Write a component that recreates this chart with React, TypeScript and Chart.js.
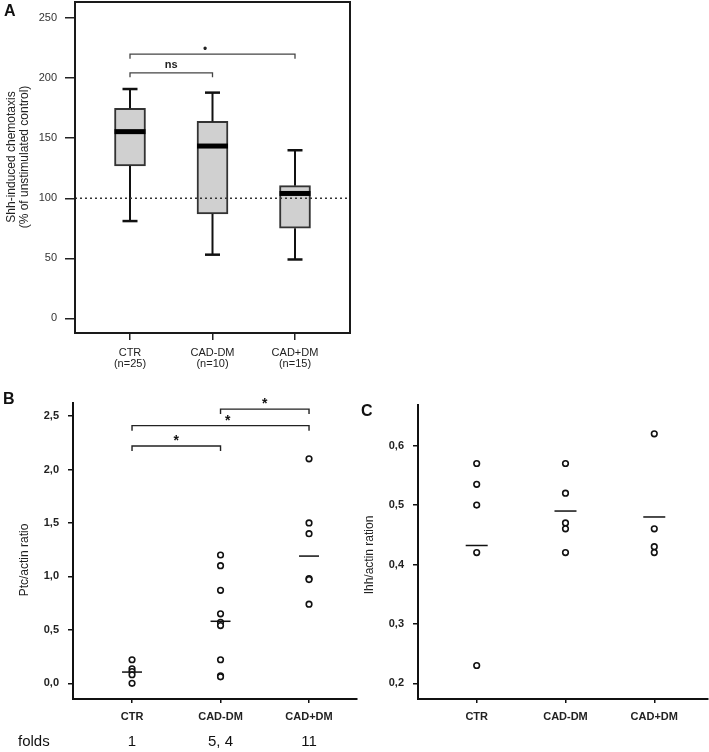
import React, { useEffect, useRef } from 'react';
import { Chart, registerables } from 'chart.js';

Chart.register(...registerables);

const FONT = '"Liberation Sans", Arial, Helvetica, sans-serif';
Chart.defaults.font.family = FONT;
Chart.defaults.color = '#222';

// ---------------- Panel A (box plot) ----------------
const groupsA = ['CTR', 'CAD-DM', 'CAD+DM'];
const nCountsA = ['(n=25)', '(n=10)', '(n=15)'];
const q1A = [127, 87, 75];
const q3A = [175, 164, 110.5];
const medianA = [155.5, 143.5, 104];
const whiskerLowA = [81, 53, 49];
const whiskerHighA = [191, 188, 140];
const refLineA = 100;
const yTicksA = [0, 50, 100, 150, 200, 250];
const bracketFromA = [0, 0];
const bracketToA = [1, 2];
const bracketYA = [204.5, 220];
const bracketLabelA = ['ns', '•'];
const bracketLabelPosA = [0.5, 0.455];
const titleA = ['Shh-induced chemotaxis', '(% of unstimulated control)'];

// ---------------- Panel B (Ptc/actin) ----------------
const groupsBC = ['CTR', 'CAD-DM', 'CAD+DM'];
const ptcCTR = [0.22, 0.135, 0.11, 0.08, 0.0];
const ptcCADnoDM = [1.2, 1.1, 0.87, 0.65, 0.57, 0.54, 0.22, 0.07, 0.06];
const ptcCADDM = [2.1, 1.5, 1.4, 0.98, 0.97, 0.74];
const ptcMedian = [0.105, 0.58, 1.19];
const foldsB = ['1', '5, 4', '11'];
const yTicksB = [0, 0.5, 1, 1.5, 2, 2.5];
const bracketFromB = [0, 0, 1];
const bracketToB = [1, 2, 2];
const bracketYB = [2.22, 2.41, 2.565];
const bracketLabelB = ['*', '*', '*'];
const bracketLabelPosB = [0.5, 0.54, 0.5];
const titleB = ['Ptc/actin ratio'];

// ---------------- Panel C (Ihh/actin) ----------------
const ihhCTR = [0.57, 0.535, 0.5, 0.42, 0.23];
const ihhCADnoDM = [0.57, 0.52, 0.47, 0.46, 0.42];
const ihhCADDM = [0.62, 0.46, 0.43, 0.42];
const ihhMedian = [0.432, 0.49, 0.48];
const yTicksC = [0.2, 0.3, 0.4, 0.5, 0.6];
const titleC = ['Ihh/actin ration'];

const commaFmt = (v: any) => Number(v).toFixed(1).replace('.', ',');

function line(ctx: CanvasRenderingContext2D, x1: number, y1: number, x2: number, y2: number) {
  ctx.beginPath();
  ctx.moveTo(x1, y1);
  ctx.lineTo(x2, y2);
  ctx.stroke();
}

function bracket(ctx: CanvasRenderingContext2D, x1: number, x2: number, yLine: number, legPx: number) {
  ctx.beginPath();
  ctx.moveTo(x1, yLine + legPx);
  ctx.lineTo(x1, yLine);
  ctx.lineTo(x2, yLine);
  ctx.lineTo(x2, yLine + legPx);
  ctx.stroke();
}

// rotated y-axis title drawn at a fixed place
function yTitlePlugin(lines: string[], firstX: number, centerY: number) {
  return {
    id: 'yTitle',
    afterDraw(chart: any) {
      const ctx = chart.ctx as CanvasRenderingContext2D;
      ctx.save();
      ctx.fillStyle = '#222';
      ctx.font = `12px ${FONT}`;
      ctx.textAlign = 'center';
      ctx.textBaseline = 'middle';
      lines.forEach((t, i) => {
        ctx.save();
        ctx.translate(firstX + i * 13.2, centerY);
        ctx.rotate(-Math.PI / 2);
        ctx.fillText(t, 0, 0);
        ctx.restore();
      });
      ctx.restore();
    },
  };
}

// ---------- config A ----------
function makeA(): any {
  const boxPlugin = {
    id: 'boxExtras',
    afterDatasetsDraw(chart: any) {
      const { ctx, chartArea: ca, scales } = chart;
      const x = scales.x, y = scales.y;
      const meta = chart.getDatasetMeta(0);
      ctx.save();
      groupsA.forEach((_, i) => {
        const cx = x.getPixelForValue(i);
        const bar = meta.data[i];
        const half = (bar && bar.width ? bar.width : 31) / 2;
        ctx.strokeStyle = '#111';
        ctx.lineWidth = 2;
        line(ctx, cx, y.getPixelForValue(q3A[i]), cx, y.getPixelForValue(whiskerHighA[i]));
        line(ctx, cx, y.getPixelForValue(q1A[i]), cx, y.getPixelForValue(whiskerLowA[i]));
        ctx.lineWidth = 2.5;
        line(ctx, cx - 7.5, y.getPixelForValue(whiskerHighA[i]), cx + 7.5, y.getPixelForValue(whiskerHighA[i]));
        line(ctx, cx - 7.5, y.getPixelForValue(whiskerLowA[i]), cx + 7.5, y.getPixelForValue(whiskerLowA[i]));
        ctx.fillStyle = '#000';
        const ym = y.getPixelForValue(medianA[i]);
        ctx.fillRect(cx - half, ym - 2.5, half * 2, 5);
      });
      ctx.strokeStyle = '#333';
      ctx.lineWidth = 1.5;
      ctx.setLineDash([2, 3]);
      const yr = y.getPixelForValue(refLineA);
      line(ctx, ca.left, yr, ca.right, yr);
      ctx.setLineDash([]);
      ctx.strokeStyle = '#1a1a1a';
      ctx.lineWidth = 2;
      ctx.strokeRect(ca.left, ca.top, ca.right - ca.left, ca.bottom - ca.top);
      ctx.strokeStyle = '#444';
      ctx.lineWidth = 1.3;
      bracketYA.forEach((bv, k) => {
        const x1 = x.getPixelForValue(bracketFromA[k]);
        const x2 = x.getPixelForValue(bracketToA[k]);
        const yl = y.getPixelForValue(bv);
        bracket(ctx, x1, x2, yl, 4.5);
        const lx = x1 + (x2 - x1) * bracketLabelPosA[k];
        ctx.fillStyle = '#222';
        ctx.textAlign = 'center';
        ctx.textBaseline = 'middle';
        if (bracketLabelA[k] === 'ns') {
          ctx.font = `bold 11px ${FONT}`;
          ctx.fillText(bracketLabelA[k], lx, yl - 8);
        } else {
          ctx.font = `12px ${FONT}`;
          ctx.fillText(bracketLabelA[k], lx, yl - 5);
        }
      });
      ctx.restore();
    },
  };

  return {
    type: 'bar',
    data: {
      datasets: [
        {
          data: q1A.map((q, i) => ({ x: i, y: [q, q3A[i]] })),
          backgroundColor: '#d0d0d0',
          borderColor: '#333',
          borderWidth: 2,
          borderSkipped: false,
          barThickness: 31,
        },
      ],
    },
    plugins: [boxPlugin, yTitlePlugin(titleA, 11.6, 157)],
    options: {
      responsive: false,
      animation: false,
      devicePixelRatio: 1,
      events: [],
      layout: { autoPadding: false, padding: { top: 2, right: 10, left: 0, bottom: 0 } },
      plugins: { legend: { display: false }, tooltip: { enabled: false } },
      scales: {
        x: {
          type: 'linear',
          offset: false,
          min: -0.6667,
          max: 2.6667,
          afterBuildTicks: (s: any) => { s.ticks = groupsA.map((_, i) => ({ value: i })); },
          afterFit: (s: any) => { s.height = 47; s.paddingLeft = 0; s.paddingRight = 0; },
          grid: { offset: false, drawOnChartArea: false, drawTicks: true, tickLength: 7, color: '#222', lineWidth: 1.5 },
          border: { display: false },
          ticks: {
            padding: 7,
            autoSkip: false,
            maxRotation: 0,
            color: '#222',
            font: { size: 11, lineHeight: 1.0 },
            callback: (_v: any, i: number) => [groupsA[i], nCountsA[i]],
          },
        },
        y: {
          type: 'linear',
          min: -12.25,
          max: 263.5,
          afterBuildTicks: (s: any) => { s.ticks = yTicksA.map((v) => ({ value: v })); },
          afterFit: (s: any) => { s.width = 75; s.paddingTop = 0; s.paddingBottom = 0; },
          grid: { drawOnChartArea: false, drawTicks: true, tickLength: 10, color: '#222', lineWidth: 1.5 },
          border: { display: false },
          ticks: { padding: 8, color: '#333', font: { size: 11 } },
          title: { display: false },
        },
      },
    },
  };
}

// ---------- shared scatter config for B / C ----------
const openPoint = {
  pointRadius: 2.8,
  pointBorderWidth: 1.6,
  pointBorderColor: '#111',
  pointBackgroundColor: '#fff',
  showLine: false,
};

function scatterConfig(opts: {
  groups: number[][];
  medians: number[];
  medianRadius: number;
  yTicks: number[];
  yMin: number;
  yMax: number;
  xMin: number;
  xMax: number;
  yWidth: number;
  padTop: number;
  padRight: number;
  plugins: any[];
}): any {
  return {
    type: 'scatter',
    data: {
      datasets: [
        {
          data: opts.medians.map((m, i) => ({ x: i, y: m })),
          pointStyle: 'line',
          pointRadius: opts.medianRadius,
          pointBorderColor: '#111',
          pointBorderWidth: 1.5,
          showLine: false,
        },
        ...opts.groups.map((vals, gi) => ({
          data: vals.map((v) => ({ x: gi, y: v })),
          ...openPoint,
        })),
      ],
    },
    plugins: opts.plugins,
    options: {
      responsive: false,
      animation: false,
      devicePixelRatio: 1,
      events: [],
      layout: { autoPadding: false, padding: { top: opts.padTop, right: opts.padRight, left: 0, bottom: 0 } },
      plugins: { legend: { display: false }, tooltip: { enabled: false } },
      scales: {
        x: {
          type: 'linear',
          offset: false,
          min: opts.xMin,
          max: opts.xMax,
          afterBuildTicks: (s: any) => { s.ticks = groupsBC.map((_, i) => ({ value: i })); },
          afterFit: (s: any) => { s.height = 53; s.paddingLeft = 0; s.paddingRight = 0; },
          grid: { drawOnChartArea: false, drawTicks: true, tickLength: 4, color: '#111', lineWidth: 1.5 },
          border: { display: true, color: '#111', width: 2 },
          ticks: {
            padding: 8.5,
            autoSkip: false,
            maxRotation: 0,
            color: '#222',
            font: { size: 11, weight: 'bold', lineHeight: 1.0 },
            callback: (_v: any, i: number) => groupsBC[i],
          },
        },
        y: {
          type: 'linear',
          min: opts.yMin,
          max: opts.yMax,
          afterBuildTicks: (s: any) => { s.ticks = opts.yTicks.map((v) => ({ value: v })); },
          afterFit: (s: any) => { s.width = opts.yWidth; s.paddingTop = 0; s.paddingBottom = 0; },
          grid: { drawOnChartArea: false, drawTicks: true, tickLength: 5, color: '#111', lineWidth: 1.5 },
          border: { display: true, color: '#111', width: 2 },
          ticks: { padding: 9, color: '#222', font: { size: 11, weight: 'bold' }, callback: commaFmt },
          title: { display: false },
        },
      },
    },
  };
}

function makeB(): any {
  const extras = {
    id: 'bExtras',
    afterDraw(chart: any) {
      const { ctx, scales } = chart;
      const x = scales.x, y = scales.y;
      ctx.save();
      ctx.strokeStyle = '#222';
      ctx.lineWidth = 1.4;
      bracketYB.forEach((bv, k) => {
        const x1 = x.getPixelForValue(bracketFromB[k]);
        const x2 = x.getPixelForValue(bracketToB[k]);
        const yl = y.getPixelForValue(bv);
        bracket(ctx, x1, x2, yl, 5);
        const lx = x1 + (x2 - x1) * bracketLabelPosB[k];
        ctx.fillStyle = '#111';
        ctx.textAlign = 'center';
        ctx.textBaseline = 'alphabetic';
        ctx.font = `bold 14px ${FONT}`;
        ctx.fillText(bracketLabelB[k], lx, yl - 1);
      });
      ctx.fillStyle = '#111';
      ctx.font = `15px ${FONT}`;
      ctx.textBaseline = 'middle';
      ctx.textAlign = 'left';
      const rowY = chart.height - 10;
      ctx.fillText('folds', 18, rowY);
      ctx.textAlign = 'center';
      foldsB.forEach((f, i) => ctx.fillText(f, x.getPixelForValue(i), rowY));
      ctx.restore();
    },
  };
  return scatterConfig({
    groups: [ptcCTR, ptcCADnoDM, ptcCADDM],
    medians: ptcMedian,
    medianRadius: 10,
    yTicks: yTicksB,
    yMin: -0.147,
    yMax: 2.622,
    xMin: -0.667,
    xMax: 2.542,
    yWidth: 73,
    padTop: 23,
    padRight: 3,
    plugins: [extras, yTitlePlugin(titleB, 25, 180)],
  });
}

function makeC(): any {
  return scatterConfig({
    groups: [ihhCTR, ihhCADnoDM, ihhCADDM],
    medians: ihhMedian,
    medianRadius: 11,
    yTicks: yTicksC,
    yMin: 0.1736,
    yMax: 0.6685,
    xMin: -0.661,
    xMax: 2.605,
    yWidth: 58,
    padTop: 25,
    padRight: 1,
    plugins: [yTitlePlugin(titleC, 10, 175)],
  });
}

function ChartBox(props: { make: () => any; left: number; top: number; width: number; height: number }) {
  const ref = useRef<HTMLCanvasElement>(null);
  useEffect(() => {
    const chart = new Chart(ref.current as HTMLCanvasElement, props.make());
    return () => chart.destroy();
  }, []);
  return (
    <canvas
      ref={ref}
      width={props.width}
      height={props.height}
      style={{ position: 'absolute', left: props.left, top: props.top, width: props.width, height: props.height }}
    />
  );
}

const letterStyle: React.CSSProperties = {
  position: 'absolute',
  fontFamily: FONT,
  fontWeight: 'bold',
  fontSize: 16,
  lineHeight: '16px',
  color: '#111',
};

export default function App() {
  return (
    <div style={{ position: 'absolute', left: 0, top: 0, width: 709, height: 752, background: '#fff', overflow: 'hidden' }}>
      <ChartBox make={makeA} left={0} top={0} width={360} height={380} />
      <ChartBox make={makeB} left={0} top={380} width={360} height={372} />
      <ChartBox make={makeC} left={360} top={380} width={349} height={372} />
      <div style={{ ...letterStyle, left: 4, top: 3 }}>A</div>
      <div style={{ ...letterStyle, left: 3, top: 391 }}>B</div>
      <div style={{ ...letterStyle, left: 361, top: 403 }}>C</div>
    </div>
  );
}
